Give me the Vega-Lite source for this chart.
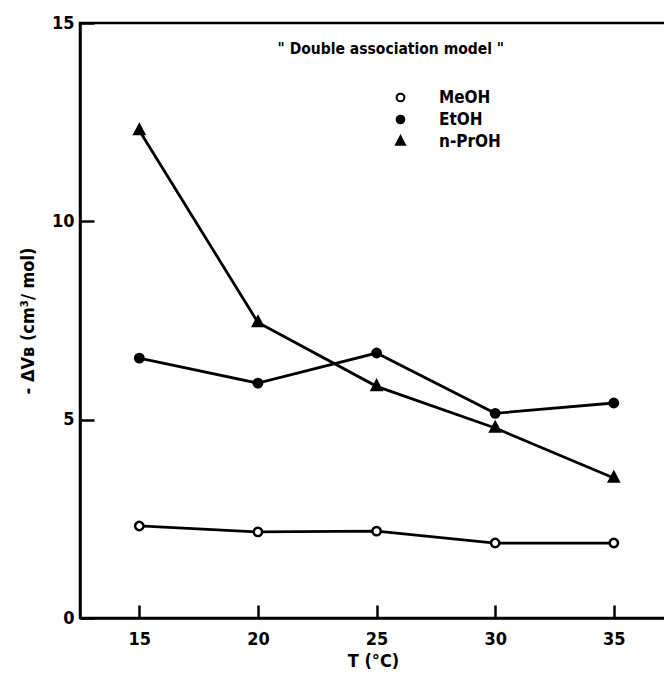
{
  "$schema": "https://vega.github.io/schema/vega-lite/v6.json",
  "autosize": "none",
  "padding": {"left": 80, "top": 23, "right": 0, "bottom": 57},
  "width": 586,
  "height": 595,
  "background": "white",
  "config": {
    "font": "DejaVu Sans Condensed",
    "view": {"stroke": "black", "strokeWidth": 2.5},
    "axis": {
      "domainColor": "black", "domainWidth": 2.5, "tickColor": "black", "tickWidth": 2.5,
      "labelFont": "DejaVu Sans Condensed", "labelFontWeight": "bold", "labelFontSize": 18, "labelColor": "black",
      "titleFont": "DejaVu Sans Condensed", "titleFontWeight": "bold", "titleFontSize": 18, "titleColor": "black",
      "grid": false
    }
  },
  "data": {"values": [
    {"T": 15, "dV": 2.32, "series": "MeOH"},
    {"T": 20, "dV": 2.17, "series": "MeOH"},
    {"T": 25, "dV": 2.19, "series": "MeOH"},
    {"T": 30, "dV": 1.89, "series": "MeOH"},
    {"T": 35, "dV": 1.89, "series": "MeOH"},
    {"T": 15, "dV": 6.55, "series": "EtOH"},
    {"T": 20, "dV": 5.92, "series": "EtOH"},
    {"T": 25, "dV": 6.68, "series": "EtOH"},
    {"T": 30, "dV": 5.16, "series": "EtOH"},
    {"T": 35, "dV": 5.42, "series": "EtOH"},
    {"T": 15, "dV": 12.29, "series": "n-PrOH"},
    {"T": 20, "dV": 7.45, "series": "n-PrOH"},
    {"T": 25, "dV": 5.84, "series": "n-PrOH"},
    {"T": 30, "dV": 4.79, "series": "n-PrOH"},
    {"T": 35, "dV": 3.53, "series": "n-PrOH"}
  ]},
  "layer": [
    {
      "mark": {"type": "line", "color": "black", "strokeWidth": 2.8},
      "encoding": {
        "x": {"field": "T", "type": "quantitative",
              "scale": {"domain": [12.5, 37.2], "nice": false, "zero": false},
              "axis": {"values": [15, 20, 25, 30, 35], "tickSize": -13, "labelPadding": 25, "title": "T (°C)", "titlePadding": 4}},
        "y": {"field": "dV", "type": "quantitative",
              "scale": {"domain": [0, 15], "nice": false},
              "axis": {"values": [0, 5, 10, 15], "tickSize": -14, "labelPadding": 20, "title": "- ΔVʙ (cm³/ mol)", "titlePadding": 14}},
        "detail": {"field": "series"}
      }
    },
    {
      "mark": {"type": "point", "filled": false, "strokeWidth": 2.5, "opacity": 1, "size": 70},
      "encoding": {
        "x": {"field": "T", "type": "quantitative"},
        "y": {"field": "dV", "type": "quantitative"},
        "shape": {"field": "series", "type": "nominal",
                  "scale": {"domain": ["MeOH", "EtOH", "n-PrOH"], "range": ["circle", "circle", "M0,-1.35L1.15,0.85L-1.15,0.85Z"]},
                  "legend": {"title": null, "orient": "none", "legendX": 312, "legendY": 66,
                             "labelFont": "DejaVu Sans Condensed", "labelFontWeight": "bold", "labelFontSize": 17, "labelColor": "black",
                             "symbolStrokeWidth": 2, "symbolSize": 60, "labelOffset": 30, "rowPadding": 4}},
        "fill": {"field": "series", "type": "nominal",
                 "scale": {"domain": ["MeOH", "EtOH", "n-PrOH"], "range": ["white", "black", "black"]},
                 "legend": {"title": null, "orient": "none", "legendX": 312, "legendY": 66,
                            "labelFont": "DejaVu Sans Condensed", "labelFontWeight": "bold", "labelFontSize": 17, "labelColor": "black",
                            "symbolStrokeWidth": 2, "symbolSize": 60, "labelOffset": 30, "rowPadding": 4}},
        "stroke": {"field": "series", "type": "nominal",
                   "scale": {"domain": ["MeOH", "EtOH", "n-PrOH"], "range": ["black", "black", "black"]},
                   "legend": {"title": null, "orient": "none", "legendX": 312, "legendY": 66,
                              "labelFont": "DejaVu Sans Condensed", "labelFontWeight": "bold", "labelFontSize": 17, "labelColor": "black",
                              "symbolStrokeWidth": 2, "symbolSize": 60, "labelOffset": 30, "rowPadding": 4}}
      }
    },
    {
      "data": {"values": [{"T": 25.6, "dV": 14.34, "label": "\" Double association model \""}]},
      "mark": {"type": "text", "font": "DejaVu Sans Condensed", "fontWeight": "bold", "fontSize": 15.5, "color": "black", "align": "center", "baseline": "middle"},
      "encoding": {
        "x": {"field": "T", "type": "quantitative"},
        "y": {"field": "dV", "type": "quantitative"},
        "text": {"field": "label"}
      }
    }
  ]
}
